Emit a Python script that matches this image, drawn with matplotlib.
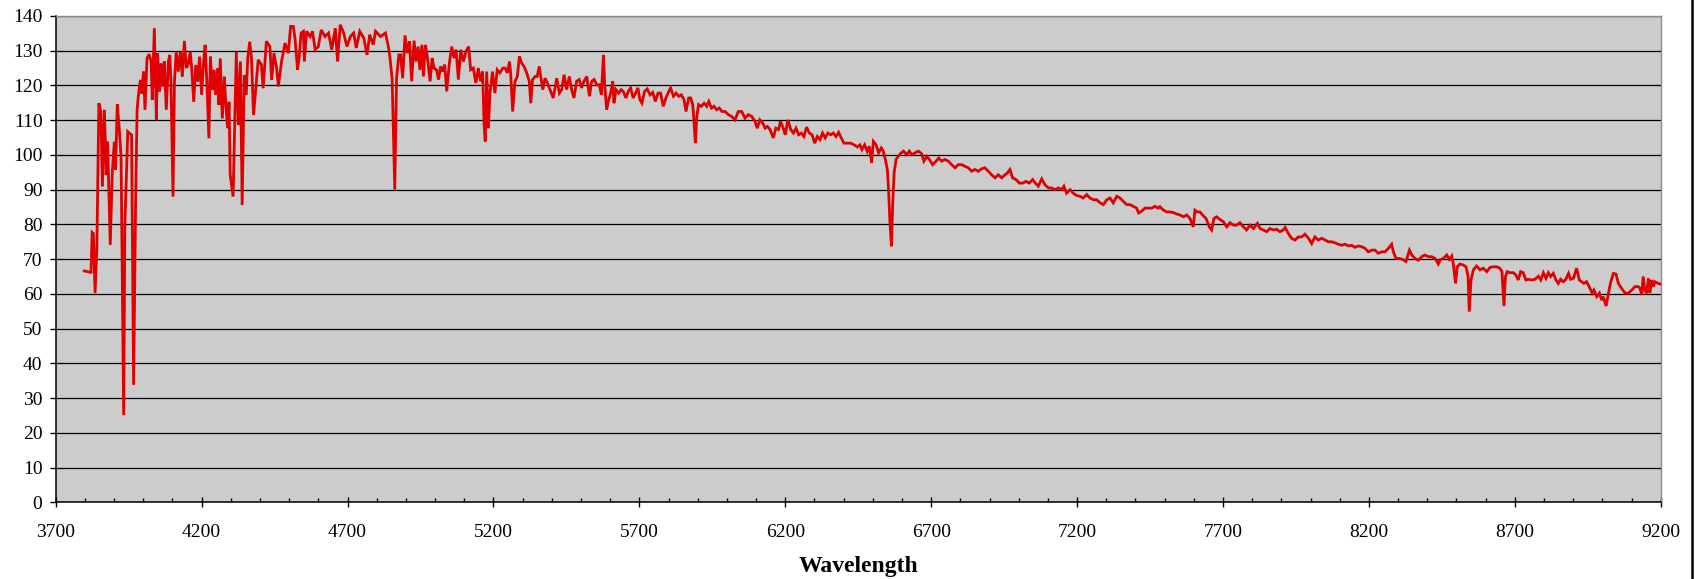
import matplotlib
matplotlib.use("Agg")
import matplotlib.pyplot as plt
from matplotlib.lines import Line2D
from matplotlib.ticker import MultipleLocator

plt.rcParams["font.family"] = ["Liberation Serif", "DejaVu Serif"]

# Spectrum samples: wavelength (Angstrom) and relative flux
wavelength = [
    3798, 3821, 3825, 3829, 3835, 3841, 3848, 3855, 3860, 3867, 3873, 3878, 3887, 3894,
    3901, 3905, 3911, 3917, 3924, 3933, 3937, 3947, 3953, 3960, 3967, 3974, 3979, 3983,
    3990, 3995, 4001, 4006, 4013, 4020, 4027, 4031, 4038, 4045, 4049, 4056, 4061, 4068,
    4072, 4079, 4086, 4091, 4095, 4102, 4107, 4113, 4120, 4127, 4134, 4141, 4148, 4155,
    4161, 4166, 4173, 4180, 4187, 4193, 4200, 4207, 4212, 4218, 4225, 4230, 4237, 4243,
    4248, 4255, 4259, 4264, 4271, 4278, 4282, 4289, 4294, 4298, 4308, 4314, 4319, 4326,
    4333, 4339, 4346, 4353, 4358, 4365, 4371, 4378,
    4394, 4405, 4411, 4422, 4434, 4440, 4448, 4457, 4463, 4474, 4486, 4497, 4505, 4514,
    4520, 4529, 4534, 4541, 4549, 4552, 4560, 4572, 4580, 4589, 4600, 4610, 4623, 4635,
    4646, 4658, 4666, 4675, 4687, 4698, 4710, 4721, 4730, 4742, 4756, 4767, 4776, 4788,
    4796, 4813, 4830, 4840, 4845, 4853, 4862, 4868, 4876,
    4882, 4889, 4897, 4905, 4912, 4920, 4928, 4935, 4942, 4948, 4955, 4960, 4967, 4974,
    4983, 4990, 4996, 5005, 5012, 5019, 5026, 5033, 5040, 5049, 5057, 5065, 5072, 5080,
    5088, 5097, 5106, 5115, 5122, 5131, 5140, 5148, 5156, 5163, 5168, 5172, 5177, 5183,
    5188, 5197, 5205, 5213, 5222, 5232, 5240, 5248, 5255, 5259, 5266, 5274, 5282, 5289,
    5297, 5305, 5314, 5323, 5328, 5334, 5343, 5350, 5357,
    5369, 5377, 5385, 5394, 5405, 5417, 5426, 5434, 5442, 5451, 5460, 5468, 5476, 5485,
    5494, 5502, 5510, 5520, 5529, 5537, 5545, 5554, 5563, 5570, 5577, 5581, 5588, 5595,
    5602, 5609, 5613, 5620, 5629, 5638, 5645, 5654, 5662, 5670, 5679, 5687, 5695, 5702,
    5709, 5718, 5727, 5737, 5746, 5755, 5764, 5773, 5782, 5791, 5801, 5807, 5817, 5826,
    5835, 5844, 5853, 5860, 5869, 5876, 5883, 5887, 5892, 5897, 5903, 5912, 5922, 5931,
    5938, 5947, 5956, 5965, 5974, 5983, 5994, 6005, 6016, 6028, 6039, 6051, 6062, 6073,
    6085, 6096, 6104, 6113, 6123, 6131, 6139, 6148, 6159, 6168, 6177, 6184, 6193, 6200,
    6209, 6219, 6228, 6237, 6246, 6255, 6264, 6273, 6283, 6292, 6301, 6310, 6319, 6328,
    6337, 6346, 6356, 6365, 6374, 6383, 6392, 6401, 6413, 6424, 6436, 6447, 6456, 6463,
    6472, 6481, 6488,
    6496, 6502, 6511, 6520, 6529, 6536, 6543, 6550, 6554, 6559, 6564, 6568, 6573, 6580,
    6587, 6595, 6605, 6616, 6625, 6634, 6645, 6656, 6667, 6675, 6685, 6694, 6705, 6717,
    6726, 6736, 6747, 6759, 6770, 6782, 6793, 6805, 6816, 6827, 6839, 6850, 6862, 6873,
    6884, 6896, 6907, 6919, 6930, 6942, 6953, 6961, 6970, 6979, 6991, 7002, 7014, 7025,
    7036, 7048, 7057, 7067, 7079, 7090, 7102, 7113, 7124, 7136, 7147, 7155, 7164, 7176,
    7187, 7199, 7210, 7221, 7233, 7244, 7256, 7267, 7279, 7290, 7302, 7313, 7324, 7336,
    7347, 7359, 7370, 7381, 7393, 7404, 7411, 7421, 7433, 7444, 7456, 7467, 7478,
    7484, 7496, 7507, 7518, 7530, 7541, 7553, 7564, 7576, 7587, 7598, 7604, 7612, 7621,
    7630, 7642, 7653, 7661, 7669, 7678, 7690, 7701, 7713, 7724, 7736, 7747, 7758, 7770,
    7781, 7793, 7804, 7818, 7827, 7838, 7850, 7861, 7873, 7884, 7895, 7907, 7913, 7924,
    7935, 7947, 7958, 7970, 7981, 7993, 8004, 8015, 8027, 8038, 8050, 8061, 8073, 8084,
    8095, 8107, 8118, 8130, 8141, 8152, 8164, 8175, 8187, 8198, 8210, 8221, 8232, 8244,
    8255, 8267, 8278, 8284, 8293, 8304, 8316, 8327, 8339, 8347, 8358, 8370, 8381, 8392,
    8404, 8415, 8427, 8438,
    8444, 8455, 8467, 8476, 8484, 8489, 8497, 8503, 8512, 8524, 8533, 8540, 8544, 8550,
    8558, 8569, 8581, 8592, 8604, 8615, 8626, 8638, 8649, 8656, 8661, 8663, 8668, 8674,
    8684, 8695, 8704, 8712, 8720, 8729, 8738, 8746, 8758, 8769, 8781, 8789, 8798, 8807,
    8815, 8823, 8832, 8841, 8849, 8857, 8866, 8875, 8884, 8891, 8901, 8912, 8921, 8929,
    8937, 8946, 8955, 8965, 8971, 8981, 8990, 8998, 9003, 9013, 9021, 9029, 9038, 9047,
    9055, 9066, 9078, 9089, 9101, 9112, 9123, 9129, 9135, 9140, 9146, 9152, 9158, 9163,
    9169, 9175, 9180, 9192, 9200,
]

flux = [
    66.6, 66.2, 77.7, 77.4, 60.2, 73.0, 114.9, 112.5, 90.9, 113.0, 94.2, 103.8, 74.1, 95.2,
    103.8, 95.7, 114.6, 108.6, 99.5, 25.1, 79.8, 106.7, 106.2, 105.8, 33.8, 87.5, 113.0, 116.8,
    121.6, 117.7, 124.0, 113.0, 127.8, 129.0, 126.9, 115.8, 136.5, 110.1, 129.3, 118.2, 126.4, 119.7,
    126.9, 113.0, 126.9, 128.8, 121.1, 88.0, 121.1, 129.7, 124.0, 129.7, 122.5, 132.8, 125.0, 126.4,
    129.7, 125.0, 115.3, 125.9, 121.1, 128.3, 117.3, 126.9, 131.7, 121.1, 104.8, 128.3, 118.7, 124.5,
    117.3, 125.0, 114.4, 127.8, 110.5, 122.5, 115.8, 107.7, 115.3, 94.2, 88.0, 111.5, 129.7, 108.6,
    126.9, 85.6, 123.0, 117.3, 127.8, 132.6, 127.8, 111.5,
    127.4, 126.0, 119.2, 132.7, 131.2, 121.6, 129.3, 125.0, 119.7, 126.9, 132.2, 129.3, 137.0, 137.0,
    133.6, 124.5, 127.9, 135.1, 135.6, 126.9, 135.6, 134.1, 135.6, 130.3, 131.2, 136.0, 134.1, 135.1,
    130.3, 136.5, 126.9, 137.5, 135.1, 131.2, 134.1, 135.1, 130.8, 135.6, 133.6, 128.8, 134.6, 131.7,
    135.6, 134.1, 135.1, 131.2, 128.4, 121.7, 90.0, 122.1, 128.8,
    128.8, 122.1, 134.4, 129.3, 132.7, 121.2, 132.9, 126.9, 131.2, 124.5, 131.7, 122.6, 131.7, 127.9,
    121.2, 127.9, 125.0, 124.5, 121.7, 125.5, 124.0, 126.0, 118.3, 126.4, 131.2, 127.9, 130.3, 121.7,
    130.3, 126.9, 129.8, 131.2, 124.5, 125.0, 120.7, 125.0, 121.2, 124.0, 108.7, 103.9, 124.0, 107.7,
    117.8, 124.0, 117.8, 124.5, 123.6, 125.0, 125.0, 123.6, 126.9, 123.6, 112.5, 121.2, 122.6, 128.4,
    126.4, 125.5, 123.6, 121.2, 114.9, 121.7, 122.6, 122.6, 125.5,
    118.8, 122.1, 120.7, 118.8, 116.4, 122.1, 117.8, 118.8, 123.1, 118.8, 122.6, 118.8, 116.4, 121.2,
    121.7, 119.3, 121.2, 122.6, 116.9, 121.2, 121.7, 120.2, 120.2, 117.3, 128.8, 120.7, 113.0, 115.9,
    117.8, 121.2, 114.9, 118.8, 117.8, 118.8, 118.3, 116.4, 118.3, 119.3, 116.4, 117.8, 119.3, 115.9,
    114.9, 118.3, 119.0, 117.3, 118.0, 115.4, 117.8, 117.8, 114.0, 116.4, 118.3, 119.3, 116.9, 117.8,
    116.9, 117.3, 115.9, 112.5, 116.4, 116.4, 114.5, 110.1, 103.4, 111.1, 114.5, 114.0, 114.9, 114.0,
    115.4, 113.5, 114.0, 113.0, 113.5, 112.5, 112.5, 111.6, 111.1, 110.1, 112.5, 112.5, 110.6, 111.6,
    111.1, 109.7, 107.7, 110.1, 109.2, 107.7, 108.2, 107.3, 104.9, 107.7, 107.3, 109.7, 107.7, 105.8,
    110.1, 107.3, 106.3, 107.7, 105.8, 106.3, 105.3, 108.0, 106.3, 105.8, 103.4, 105.3, 104.4, 106.3,
    104.9, 106.3, 105.8, 106.3, 105.3, 106.5, 104.9, 103.4, 103.4, 103.4, 102.9, 102.3, 102.9, 101.5,
    102.9, 101.0, 102.5,
    97.7, 103.9, 103.0, 100.6, 102.0, 101.1, 98.7, 95.8, 90.0, 80.4, 73.7, 85.2, 94.8, 98.7,
    99.6, 100.4, 101.1, 100.1, 101.1, 100.1, 100.6, 101.1, 100.4, 98.2, 99.6, 98.7, 97.2, 98.2,
    99.1, 98.2, 98.7, 98.2, 97.2, 96.3, 97.2, 97.2, 96.7, 96.3, 95.3, 95.8, 95.3, 96.0,
    96.3, 95.3, 94.3, 93.4, 94.3, 93.4, 94.3, 94.8, 95.8, 93.4, 92.9, 91.9, 91.9, 92.4,
    91.9, 92.9, 91.9, 91.0, 93.1, 91.4, 90.5, 90.5, 90.0, 90.5, 90.0, 91.0, 89.0, 90.0,
    89.0, 88.3, 88.1, 87.6, 88.6, 87.6, 87.1, 87.1, 86.2, 85.7, 87.1, 87.6, 86.2, 88.1,
    87.6, 86.6, 85.7, 85.7, 85.2, 84.7, 83.3, 83.8, 84.7, 84.7, 84.7, 85.2, 84.7,
    85.1, 84.1, 83.6, 83.6, 83.4, 83.0, 82.7, 82.2, 82.7, 81.7, 79.3, 84.1, 83.6, 83.6,
    82.7, 81.7, 79.3, 78.4, 81.7, 82.2, 81.4, 80.8, 79.3, 80.5, 79.8, 79.8, 80.5, 79.3,
    78.4, 79.8, 78.8, 80.3, 78.8, 78.4, 77.9, 78.8, 78.4, 78.6, 77.9, 78.4, 79.1, 77.4,
    76.0, 75.5, 76.4, 76.4, 77.2, 76.0, 74.5, 76.4, 75.5, 76.0, 75.5, 75.0, 75.0, 74.7,
    74.3, 74.0, 74.3, 73.8, 74.0, 73.4, 73.8, 73.6, 73.1, 72.1, 72.6, 72.6, 71.7, 72.1,
    72.1, 73.1, 74.3, 72.1, 70.2, 70.2, 69.9, 69.3, 72.6, 71.2, 70.2, 69.7, 70.7, 71.2,
    70.7, 70.7, 70.2, 68.6,
    69.8, 70.2, 71.2, 69.9, 70.9, 68.8, 63.0, 67.8, 68.6, 68.3, 67.8, 65.0, 54.9, 64.0,
    66.9, 68.0, 66.9, 67.4, 66.4, 67.6, 67.8, 67.8, 67.4, 66.4, 59.2, 56.5, 65.0, 66.4,
    66.1, 66.1, 65.4, 64.0, 66.4, 66.1, 64.0, 64.2, 64.0, 64.2, 65.1, 64.0, 66.1, 64.5,
    66.1, 65.0, 65.9, 64.0, 63.0, 64.2, 63.5, 64.2, 65.9, 64.2, 64.5, 67.4, 64.0, 63.5,
    63.0, 63.5, 62.1, 60.2, 61.1, 59.2, 60.2, 58.2, 59.2, 56.5, 60.2, 63.5, 65.9, 65.7,
    63.0, 61.6, 60.2, 60.2, 61.1, 62.1, 62.1, 61.6, 59.7, 65.0, 61.1, 60.2, 64.5, 60.2,
    64.0, 62.1, 63.5, 63.0, 62.8,
]

x_major = list(range(3700, 9201, 500))
y_major = list(range(0, 141, 10))

fig = plt.figure(figsize=(17.0, 5.79), dpi=100)
ax = fig.add_axes([0.03276, 0.13247, 0.97688 - 0.03276, 0.97237 - 0.13247])
ax.set_facecolor("#cccccc")

ax.plot(wavelength, flux, color="#e00000", lw=2.0, solid_joinstyle="miter", zorder=3)

ax.set_xlim(3700, 9200)
ax.set_ylim(0, 140)
ax.set_xticks(x_major)
ax.set_xticklabels([str(v) for v in x_major])
ax.set_yticks(y_major)
ax.set_yticklabels([str(v) for v in y_major])
ax.xaxis.set_minor_locator(MultipleLocator(100))

ax.yaxis.grid(True, color="black", lw=0.9, zorder=1)
ax.set_axisbelow(True)

ax.tick_params(axis="x", which="major", direction="inout", length=7, width=1.0,
               labelsize=14, pad=12, colors="black")
ax.tick_params(axis="x", which="minor", direction="in", length=3, width=1.0)
ax.tick_params(axis="y", which="major", direction="out", length=4, width=1.0,
               labelsize=14, pad=5.5)

for side in ("left", "bottom"):
    ax.spines[side].set_color("black")
    ax.spines[side].set_linewidth(1.1)
for side in ("top", "right"):
    ax.spines[side].set_color("#8c8c8c")
    ax.spines[side].set_linewidth(1.0)

ax.set_xlabel("Wavelength", fontsize=17, fontweight="bold", labelpad=11)

# Outer chart frame edge on the right
fig.add_artist(Line2D([1691.5 / 1700, 1691.5 / 1700], [0, 1], transform=fig.transFigure,
                      color="black", lw=1.8))

fig.savefig("out.png", dpi=100)
